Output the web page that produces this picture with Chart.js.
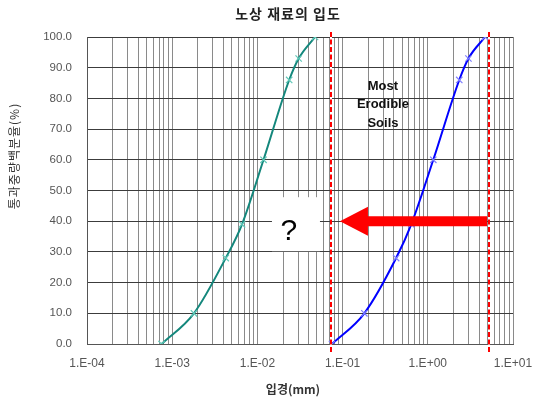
<!DOCTYPE html>
<html><head><meta charset="utf-8">
<script src="https://cdn.jsdelivr.net/npm/chart.js@4.4.1/dist/chart.umd.min.js"></script>
<style>html,body{margin:0;padding:0;background:#fff}</style>
</head><body>
<canvas id="c" width="538" height="398" style="width:538px;height:398px"></canvas>
<script>
const chartTitle = '노상 재료의 입도';
const xAxisTitle = '입경(mm)';
const yAxisTitle = '통과중량백분율(%)';
const percentPassing = [0, 10, 28, 39, 60, 86, 93, 100];
const subgradeSizes = [0.00075, 0.0018, 0.00425, 0.0066, 0.0118, 0.0236, 0.0305, 0.0475];
const erodibleSizes = [0.075, 0.18, 0.425, 0.64, 1.16, 2.34, 3.0, 4.7];
const xTickLabels = ['1.E-04', '1.E-03', '1.E-02', '1.E-01', '1.E+00', '1.E+01'];
const boundarySizes = [0.073, 5.25];
const arrowLevel = 40;
const annotationLines = ['Most', 'Erodible', 'Soils'];
const questionText = '?';

const KR = '"Noto Sans CJK KR", "Liberation Sans", sans-serif';
const AR = '"Liberation Sans", Arial, sans-serif';

function xTickValues() {
  const out = [];
  for (let e = -4; e <= 0; e++) for (let m = 1; m <= 9; m++) out.push({ value: m * Math.pow(10, e) });
  out.push({ value: 10 });
  return out;
}

const decor = {
  id: 'decor',
  beforeDatasetsDraw(chart) {
    const { ctx, scales: { x, y } } = chart;
    const xl = x.getPixelForValue(boundarySizes[0]);
    const yc = y.getPixelForValue(arrowLevel);
    ctx.save();
    ctx.fillStyle = '#fff';
    const bx1 = xl - 11, bx0 = bx1 - 48;
    ctx.fillRect(bx0, yc - 24, bx1 - bx0, 54);
    ctx.fillStyle = '#000';
    ctx.font = '30px ' + AR;
    ctx.textAlign = 'center';
    ctx.textBaseline = 'middle';
    ctx.fillText(questionText, bx0 + 17, yc + 11);
    ctx.restore();
  },
  afterDatasetsDraw(chart) {
    const { ctx, scales: { x, y } } = chart;
    const xl = x.getPixelForValue(boundarySizes[0]);
    const xr = x.getPixelForValue(boundarySizes[1]);
    const yc = y.getPixelForValue(arrowLevel);
    ctx.save();
    const tip = xl + 9, tail = xr - 2, head = tip + 28;
    ctx.fillStyle = '#ff0000';
    ctx.beginPath();
    ctx.moveTo(tip, yc);
    ctx.lineTo(head, yc - 14.5);
    ctx.lineTo(head, yc - 5);
    ctx.lineTo(tail, yc - 5);
    ctx.lineTo(tail, yc + 5);
    ctx.lineTo(head, yc + 5);
    ctx.lineTo(head, yc + 14.5);
    ctx.closePath();
    ctx.fill();
    ctx.lineWidth = 2;
    boundarySizes.forEach(v => {
      const px = Math.round(x.getPixelForValue(v));
      ctx.strokeStyle = '#ffffff';
      ctx.setLineDash([]);
      ctx.beginPath();
      ctx.moveTo(px, chart.chartArea.top - 5);
      ctx.lineTo(px, chart.chartArea.bottom + 8);
      ctx.stroke();
      ctx.strokeStyle = '#ff0000';
      ctx.setLineDash([5, 2.5]);
      ctx.beginPath();
      ctx.moveTo(px, chart.chartArea.top - 5);
      ctx.lineTo(px, chart.chartArea.bottom + 8);
      ctx.stroke();
    });
    ctx.setLineDash([]);
    ctx.fillStyle = '#111';
    ctx.font = 'bold 13px ' + AR;
    ctx.textAlign = 'center';
    ctx.textBaseline = 'middle';
    const tx = xl + 52;
    const ty = y.getPixelForValue(84);
    annotationLines.forEach((t, i) => ctx.fillText(t, tx, ty + i * 18.5));
    ctx.restore();
  },
  afterDraw(chart) {
    const { ctx } = chart;
    ctx.save();
    ctx.textAlign = 'center';
    ctx.textBaseline = 'middle';
    ctx.fillStyle = '#222';
    ctx.font = 'bold 14px ' + KR;
    try { ctx.letterSpacing = '1px'; } catch (e) {}
    ctx.fillText(chartTitle, 288, 14);
    try { ctx.letterSpacing = '0px'; } catch (e) {}
    ctx.fillStyle = '#333';
    ctx.font = 'bold 12px ' + KR;
    ctx.fillText(xAxisTitle, 293, 389);
    ctx.translate(14, 156);
    ctx.rotate(-Math.PI / 2);
    ctx.font = '12px ' + KR;
    try { ctx.letterSpacing = '1px'; } catch (e) {}
    ctx.fillText(yAxisTitle, 0, 0);
    ctx.restore();
  }
};

new Chart(document.getElementById('c'), {
  type: 'line',
  data: {
    datasets: [
      {
        label: 'subgrade',
        data: subgradeSizes.map((v, i) => ({ x: v, y: percentPassing[i] })),
        borderColor: '#14877c',
        borderWidth: 2,
        pointStyle: 'crossRot',
        pointRadius: 4.5,
        pointBorderWidth: 1.2,
        pointBorderColor: '#60c8b8',
        pointBackgroundColor: '#60c8b8',
        cubicInterpolationMode: 'monotone',
        fill: false
      },
      {
        label: 'erodible',
        data: erodibleSizes.map((v, i) => ({ x: v, y: percentPassing[i] })),
        borderColor: '#0000ff',
        borderWidth: 2,
        pointStyle: 'crossRot',
        pointRadius: 4.5,
        pointBorderWidth: 1.2,
        pointBorderColor: '#7f7fff',
        pointBackgroundColor: '#7f7fff',
        cubicInterpolationMode: 'monotone',
        fill: false
      }
    ]
  },
  options: {
    responsive: false,
    animation: false,
    events: [],
    layout: { padding: { top: 37, right: 25, left: 0, bottom: 0 } },
    plugins: { legend: { display: false }, title: { display: false }, tooltip: { enabled: false } },
    scales: {
      x: {
        type: 'logarithmic',
        min: 0.0001,
        max: 10,
        afterBuildTicks: s => { s.ticks = xTickValues(); },
        afterFit: s => { s.height = 54; s.paddingLeft = 0; s.paddingRight = 0; },
        grid: { color: '#8a8a8a', lineWidth: 1, drawTicks: false },
        border: { display: true, color: '#555', width: 1 },
        ticks: {
          autoSkip: false,
          maxRotation: 0,
          minRotation: 0,
          padding: 12,
          color: '#555',
          font: { family: AR, size: 12 },
          callback: (v) => {
            const l = Math.log10(v);
            const e = Math.round(l);
            return Math.abs(l - e) < 1e-6 ? xTickLabels[e + 4] : '';
          }
        }
      },
      y: {
        min: 0,
        max: 100,
        afterFit: s => { s.width = 87; s.paddingTop = 0; s.paddingBottom = 0; },
        grid: { color: '#3c3c3c', lineWidth: 1, drawTicks: false },
        border: { display: true, color: '#555', width: 1 },
        ticks: {
          stepSize: 10,
          padding: 15,
          color: '#555',
          font: { family: AR, size: 11.5 },
          callback: v => Number(v).toFixed(1)
        }
      }
    }
  },
  plugins: [decor]
});
</script>
</body></html>
